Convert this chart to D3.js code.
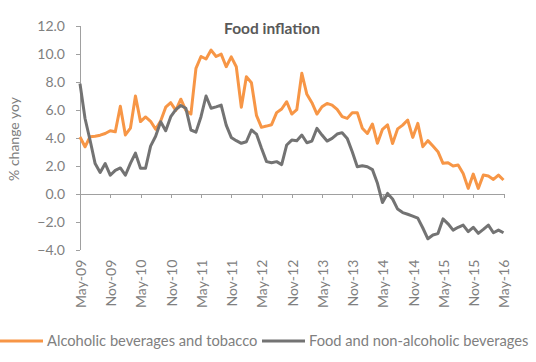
<!doctype html>
<html>
<head>
    <meta charset="utf-8">
    <title>Food inflation</title>
    <script src="https://d3js.org/d3.v7.min.js"></script>
    <style>
        body {
            margin: 0;
            background: #fff;
        }

        .axis path,
        .axis line {
            fill: none;
            stroke: #a0a0a0;
            shape-rendering: crispEdges;
        }

        .axis text {
            font-family: Lato, sans-serif;
            font-size: 14px;
            fill: #808080;
        }

        .title {
            font: bold 15.5px Lato, sans-serif;
            fill: #595959;
        }

        .ylabel {
            font: 14px Lato, sans-serif;
            fill: #808080;
        }

        .legend-text {
            font: 14.7px Lato, sans-serif;
            fill: #808080;
        }
    </style>
</head>

<body>
<div id="forChart"></div>

<script>

const forTitle = "Food inflation";
const yLabel = "% change yoy";

const seriesNames = ["Alcoholic beverages and tobacco", "Food and non-alcoholic beverages"];
const seriesColors = ["#f79646", "#737373"];

// one tick label every six months, May-09 .. May-16
const tickLabels = ["May-09", "Nov-09", "May-10", "Nov-10", "May-11", "Nov-11", "May-12", "Nov-12",
                    "May-13", "Nov-13", "May-14", "Nov-14", "May-15", "Nov-15", "May-16"];

const yTicks = [-4, -2, 0, 2, 4, 6, 8, 10, 12];

// monthly values, May-09 .. May-16
const alcohol = [4.05, 3.35, 4.07, 4.1, 4.18, 4.3, 4.5, 4.42, 6.25, 4.2, 4.68, 6.98,
                 5.15, 5.48, 5.17, 4.6, 5.2, 6.18, 6.5, 5.95, 6.75, 5.95, 5.69, 8.95,
                 9.8, 9.62, 10.26, 9.8, 9.97, 9.07, 9.77, 9.07, 6.17, 8.36, 7.93, 5.6,
                 4.74, 4.83, 4.93, 5.79, 6.05, 6.57, 5.69, 6.0, 8.6, 7.1, 6.5, 5.69,
                 6.21, 6.45, 6.33, 6.02, 5.5, 5.38, 5.79, 5.79, 4.67, 4.3, 4.98, 3.6,
                 4.6, 4.92, 3.58, 4.63, 4.9, 5.26, 4.02, 5.02, 3.36, 3.79, 3.4, 3.0,
                 2.17, 2.21, 1.98, 2.05, 1.45, 0.38, 1.4, 0.38, 1.33, 1.26, 1.02, 1.33,
                 0.98];

const food = [7.86, 5.37, 3.82, 2.15, 1.52, 2.15, 1.32, 1.67, 1.84, 1.32, 2.16, 2.9,
              1.82, 1.82, 3.4, 4.1, 5.14, 4.5, 5.5, 6.0, 6.3, 6.1, 4.55, 4.4,
              5.5, 6.98, 6.1, 6.2, 6.33, 4.9, 4.02, 3.79, 3.6, 3.71, 4.55, 4.26,
              3.24, 2.29, 2.21, 2.29, 2.08, 3.48, 3.83, 3.79, 4.19, 3.64, 3.76, 4.67,
              4.19, 3.76, 3.95, 4.26, 4.36, 3.95, 3.0, 1.93, 2.0, 1.93, 1.72, 0.74,
              -0.63, 0.02, -0.38, -1.1, -1.35, -1.47, -1.6, -1.74, -2.45, -3.22, -2.95, -2.85,
              -1.8, -2.15, -2.6, -2.4, -2.24, -2.71, -2.4, -2.83, -2.55, -2.24, -2.79, -2.6,
              -2.79];

const w = 536;
const h = 362;

const margin = {
    top: 25.7,
    right: 32.5,
    bottom: 112.3,
    left: 80
};

const svg = d3.select("#forChart")
              .append("svg")
              .attr("width", w)
              .attr("height", h);

const xScale = d3.scaleLinear()
                 .domain([0, alcohol.length - 1])
                 .range([margin.left, w - margin.right]);

const yScale = d3.scaleLinear()
                 .domain([-4, 12])
                 .range([h - margin.bottom, margin.top]);

// y axis
const yAxis = d3.axisLeft(yScale)
                .tickValues(yTicks)
                .tickSize(4)
                .tickSizeOuter(0)
                .tickPadding(11)
                .tickFormat(d3.format(".1f"));

svg.append("g")
   .attr("class", "axis")
   .attr("transform", "translate(" + margin.left + ",0)")
   .call(yAxis);

// x axis sits on the zero line, labels drop to the bottom of the plot
const tickIdx = tickLabels.map(function(d, i) { return i * 6; });

const xAxis = d3.axisBottom(xScale)
                .tickValues(tickIdx)
                .tickSize(4)
                .tickSizeOuter(0)
                .tickFormat("");

svg.append("g")
   .attr("class", "axis")
   .attr("transform", "translate(0," + yScale(0) + ")")
   .call(xAxis);

svg.append("g")
   .attr("class", "axis")
   .selectAll("text")
   .data(tickLabels)
   .enter()
   .append("text")
   .attr("transform", function(d, i) {
       return "translate(" + (xScale(tickIdx[i]) + 1) + "," + (h - margin.bottom + 10) + ") rotate(-90)";
   })
   .attr("dy", "0.35em")
   .style("text-anchor", "end")
   .text(function(d) { return d; });

// lines
const line = d3.line()
               .x(function(d, i) { return xScale(i); })
               .y(function(d) { return yScale(d); });

[alcohol, food].forEach(function(series, k) {
    svg.append("path")
       .datum(series)
       .attr("fill", "none")
       .attr("stroke", seriesColors[k])
       .attr("stroke-width", 3)
       .attr("stroke-linejoin", "round")
       .attr("d", line);
});

// title + y label
svg.append("text")
   .attr("class", "title")
   .attr("x", 272)
   .attr("y", 34)
   .style("text-anchor", "middle")
   .text(forTitle);

svg.append("text")
   .attr("class", "ylabel")
   .attr("transform", "translate(19," + 139 + ") rotate(-90)")
   .style("text-anchor", "middle")
   .text(yLabel);

// legend
const legendX = [0, 262];
const legendY = 341;

seriesNames.forEach(function(name, k) {
    svg.append("line")
       .attr("x1", legendX[k])
       .attr("x2", legendX[k] + 43)
       .attr("y1", legendY)
       .attr("y2", legendY)
       .attr("stroke", seriesColors[k])
       .attr("stroke-width", 3);

    svg.append("text")
       .attr("class", "legend-text")
       .attr("x", legendX[k] + 47)
       .attr("y", legendY + 5)
       .text(name);
});

</script>
</body>
</html>
